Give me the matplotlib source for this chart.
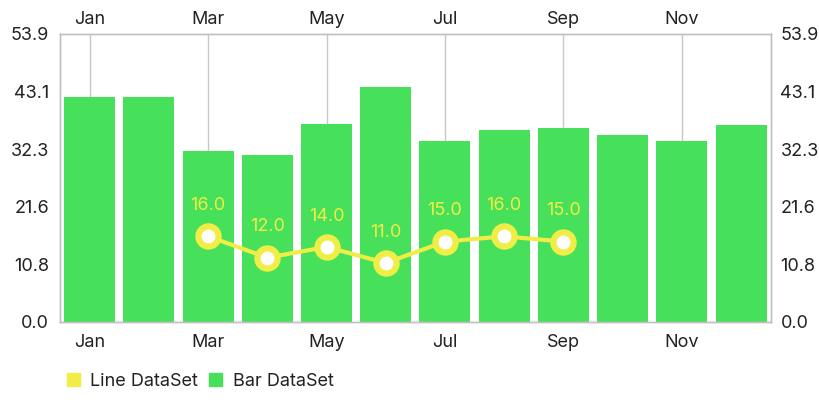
import matplotlib
matplotlib.use("Agg")
import matplotlib.pyplot as plt
from matplotlib.patches import Patch
import numpy as np

months = ["Jan", "Feb", "Mar", "Apr", "May", "Jun",
          "Jul", "Aug", "Sep", "Oct", "Nov", "Dec"]
bar_values = [42.1, 42.1, 32.0, 31.2, 37.0, 44.0, 33.9, 36.0, 36.3, 35.0, 33.9, 36.8]
line_months = ["Mar", "Apr", "May", "Jun", "Jul", "Aug", "Sep"]
line_values = [16.0, 12.0, 14.0, 11.0, 15.0, 16.0, 15.0]
y_max = 53.9

green = "#46E05A"
yellow = "#F0EE46"
grid_c = "#c8c8c8"
text_c = "#222222"
fs = 13

plt.rcParams['font.family'] = ['Inter', 'DejaVu Sans']
W, H = 819, 403
fig = plt.figure(figsize=(W / 100, H / 100), dpi=100)
ax = fig.add_axes([60 / W, (H - 321.7) / H, 710.7 / W, 287.7 / H])

x = np.arange(len(months))
ax.bar(x, bar_values, width=0.86, color=green, zorder=2)

lx = [months.index(m) for m in line_months]
ax.plot(lx, line_values, color=yellow, lw=3, zorder=3,
        marker="o", markersize=14.5, markerfacecolor="white",
        markeredgecolor=yellow, markeredgewidth=4.5)
for xi, v in zip(lx, line_values):
    ax.annotate(f"{v:.1f}", (xi, v), xytext=(0, 16), textcoords="offset points",
                ha="center", va="bottom", color=yellow, fontsize=fs, zorder=4)

ax.set_xlim(-0.5, len(months) - 0.5)
ax.set_ylim(0, y_max)

tick_idx = x[::2]
tick_lbls = [months[i] for i in tick_idx]
ax.set_xticks(tick_idx)
ax.set_xticklabels(tick_lbls)
ax.tick_params(axis="x", length=0, labelsize=fs, pad=9, colors=text_c)
ax.xaxis.grid(True, color=grid_c, lw=1, zorder=0)
ax.set_axisbelow(True)

top = ax.secondary_xaxis("top")
top.set_xticks(tick_idx)
top.set_xticklabels(tick_lbls)
top.tick_params(axis="x", length=0, labelsize=fs, pad=4, colors=text_c)
top.spines["top"].set_visible(False)

yt = np.linspace(0, y_max, 6)
ax.set_yticks(yt)
ax.set_yticklabels([f"{v:.1f}" for v in yt])
ax.tick_params(axis="y", length=0, labelsize=fs, pad=8, colors=text_c)

ax2 = ax.twinx()
ax2.set_ylim(0, y_max)
ax2.set_yticks(yt)
ax2.set_yticklabels([f"{v:.1f}" for v in yt])
ax2.tick_params(axis="y", length=0, labelsize=fs, pad=7, colors=text_c)

for a in (ax, ax2):
    for s in a.spines.values():
        s.set_color("#c0c0c0")
        s.set_linewidth(1)

handles = [Patch(color=yellow, label="Line DataSet"),
           Patch(color=green, label="Bar DataSet")]
fig.legend(handles=handles, loc="center left", bbox_to_anchor=(67 / W, 1 - 381 / H),
           ncol=2, frameon=False, fontsize=fs, handlelength=0.7, handleheight=0.7,
           handletextpad=0.6, columnspacing=0.6, borderpad=0, borderaxespad=0,
           labelcolor=text_c)

fig.savefig("out.png", dpi=100)
